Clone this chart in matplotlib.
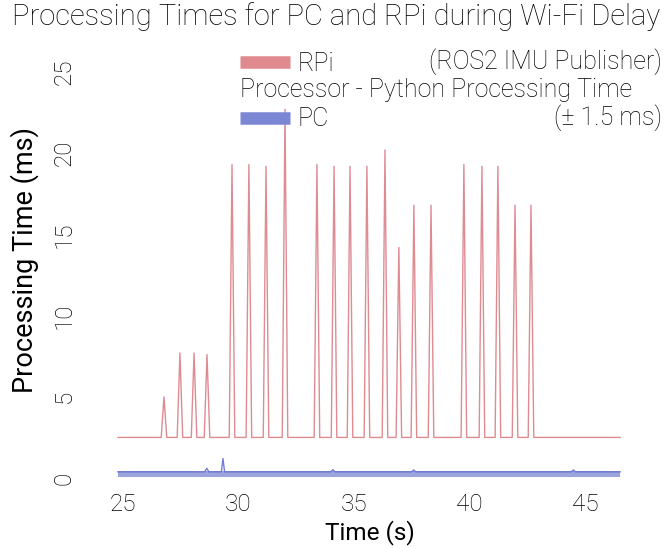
import matplotlib
matplotlib.use('Agg')
import matplotlib.pyplot as plt
from matplotlib.lines import Line2D

plt.rcParams['font.family'] = ['Roboto', 'DejaVu Sans']
plt.rcParams['font.weight'] = 'light'

# RPi processing time (ms) - baseline with periodic spikes during the Wi-Fi delay
rpi_t = [24.80,
         26.67, 26.79, 26.91, 27.36, 27.48, 27.60, 27.97, 28.09, 28.21,
         28.53, 28.65, 28.77, 29.61, 29.73, 29.85, 30.34, 30.46, 30.58,
         31.08, 31.20, 31.32, 31.90, 32.02, 32.14, 33.28, 33.40, 33.52,
         34.02, 34.14, 34.26, 34.71, 34.83, 34.95, 35.44, 35.56, 35.68,
         36.22, 36.34, 36.46, 36.82, 36.94, 37.06, 37.47, 37.59, 37.71,
         38.21, 38.33, 38.45, 39.63, 39.75, 39.87, 40.41, 40.53, 40.65,
         41.10, 41.22, 41.34, 41.84, 41.96, 42.08, 42.53, 42.65, 42.77,
         46.50]
rpi_v = [2.5,
         2.5, 5.0, 2.5, 2.5, 7.7, 2.5, 2.5, 7.7, 2.5,
         2.5, 7.6, 2.5, 2.5, 19.3, 2.5, 2.5, 19.3, 2.5,
         2.5, 19.2, 2.5, 2.5, 22.7, 2.5, 2.5, 19.3, 2.5,
         2.5, 19.2, 2.5, 2.5, 19.2, 2.5, 2.5, 19.2, 2.5,
         2.5, 20.2, 2.5, 2.5, 14.2, 2.5, 2.5, 16.8, 2.5,
         2.5, 16.8, 2.5, 2.5, 19.3, 2.5, 2.5, 19.2, 2.5,
         2.5, 19.2, 2.5, 2.5, 16.8, 2.5, 2.5, 16.8, 2.5,
         2.5]

# PC processing time (ms)
pc_t = [24.80, 28.55, 28.64, 28.73, 29.27, 29.34, 29.41, 34.00, 34.09, 34.18,
        37.49, 37.58, 37.67, 44.39, 44.48, 44.57, 46.50]
pc_v = [0.38, 0.38, 0.60, 0.38, 0.38, 1.20, 0.38, 0.38, 0.52, 0.38,
        0.38, 0.50, 0.38, 0.38, 0.50, 0.38, 0.38]
pc_lo = 0.08
pc_hi = 0.45

red = '#d9777f'
red_patch = '#e0898f'
blue = '#6570cc'
blue_patch = '#7b86d4'

fig = plt.figure(figsize=(6.68, 5.48), dpi=100)
ax = fig.add_axes([0.1696, 0.1188, 0.7656, 0.7646])

ax.fill_between(pc_t, pc_lo, pc_hi, color=blue_patch, alpha=0.75, linewidth=0)
ax.plot(pc_t, pc_v, color=blue, linewidth=1.0, alpha=0.9)
ax.plot(rpi_t, rpi_v, color=red, linewidth=1.0, alpha=0.85)

ax.set_xlim(24.6, 46.7)
ax.set_ylim(-0.3, 25.5)
ax.set_xticks([25, 30, 35, 40, 45])
ax.set_yticks([0, 5, 10, 15, 20, 25])
for s in ax.spines.values():
    s.set_visible(False)
ax.tick_params(axis='x', length=0, pad=7, labelsize=17.5)
ax.tick_params(axis='y', length=0, pad=27, labelsize=17.5)
for lab in ax.get_yticklabels():
    lab.set_rotation(90)
    lab.set_va('center')

ax.set_xlabel('Time (s)', fontsize=17.5)
ax.xaxis.set_label_coords(0.502, -0.088)
ax.set_ylabel('Processing Time (ms)', fontsize=19.5)
ax.yaxis.set_label_coords(-0.145, 0.532)

fig.text(12 / 668, 1 - 17 / 548, 'Processing Times for PC and RPi during Wi-Fi Delay',
         ha='left', va='center', fontsize=21)

handles = [Line2D([], [], color=red_patch, linewidth=9, solid_capstyle='butt'),
           Line2D([], [], color=blue_patch, linewidth=9, solid_capstyle='butt')]
fig.legend(handles, ['RPi', 'PC'], loc='upper left',
           bbox_to_anchor=(240 / 668, 1 - 52 / 548), frameon=False,
           fontsize=18, handlelength=2.0, handletextpad=0.3,
           labelspacing=1.25, borderpad=0, borderaxespad=0)
fig.text(662 / 668, 1 - 62 / 548, '(ROS2 IMU Publisher)', ha='right', va='center', fontsize=18)
fig.text(240 / 668, 1 - 90 / 548, 'Processor - Python Processing Time', ha='left', va='center', fontsize=18)
fig.text(662 / 668, 1 - 118 / 548, '(± 1.5 ms)', ha='right', va='center', fontsize=18)

fig.savefig('out.png', dpi=100)
